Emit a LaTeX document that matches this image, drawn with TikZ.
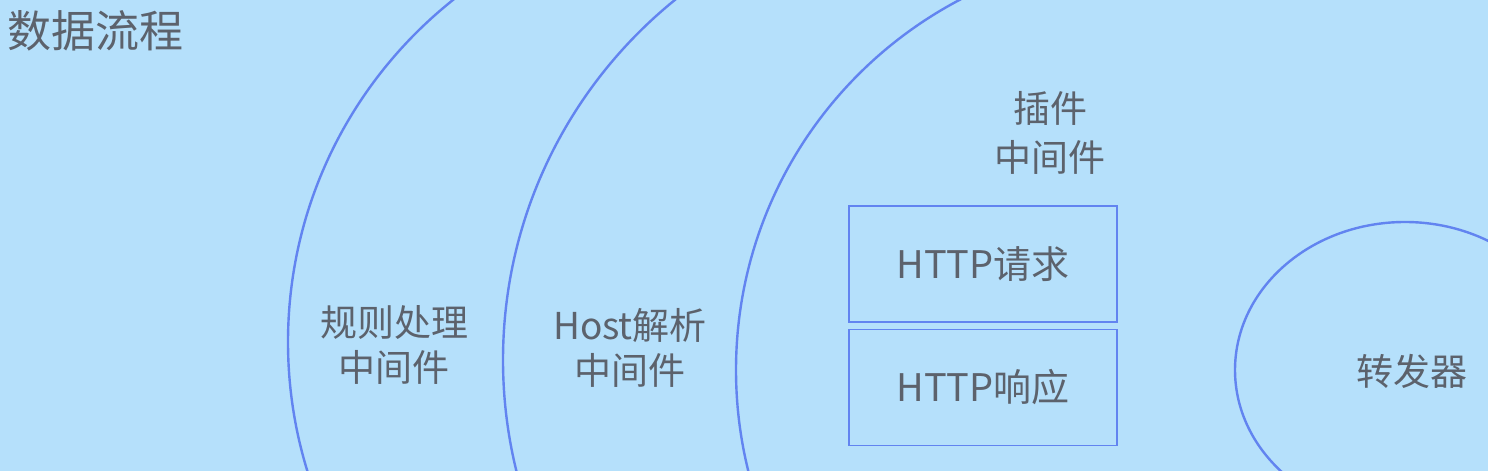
\documentclass[tikz,border=0pt]{standalone}
\usepackage{fontspec}
\newfontfamily\cjk{Noto Sans CJK SC}
\usetikzlibrary{positioning}

\definecolor{slidebg}{RGB}{181,224,251}
\definecolor{ringblue}{RGB}{98,132,240}
\definecolor{labelgray}{RGB}{92,98,108}

\begin{document}
\begin{tikzpicture}[x=1pt,y=-1pt,
    ring/.style={draw=ringblue,line width=2.4pt},
    label text/.style={text=labelgray,align=center,inner sep=0pt,font=\cjk\fontsize{37}{45}\selectfont},
    part box/.style={draw=ringblue,line width=1.4pt,minimum width=268pt,minimum height=116pt,inner sep=0pt,
        text=labelgray,font=\cjk\fontsize{38}{45}\selectfont}]

% slide background
\fill[slidebg] (0,0) rectangle (1488,471);
\useasboundingbox (0,0) rectangle (1488,471);

% middleware rings: only their left sides are on the slide
\foreach \cx/\cy/\r in {725/342/437, 966/360/463, 1154/370/418}{
  \begin{scope}
  \clip (0,0) rectangle (\cx,471);
  \draw[ring] (\cx,\cy) circle[radius=\r pt];
  \end{scope}
}
\begin{scope}
\clip (0,0) rectangle (1488,471);
\draw[ring] (1405,370) ellipse[x radius=170pt,y radius=148pt];
\end{scope}

\node[label text,font=\cjk\fontsize{44}{50}\selectfont] (title) at (96,31) {数据流程};

\node[label text] (rule)   at (394,345) {规则处理\\中间件};
\node[label text] (host)   at (630,348) {Host解析\\中间件};
\node[label text,font=\cjk\fontsize{37}{49}\selectfont] (plugin) at (1050,133) {插件\\中间件};

\node[part box] (request) at (983,264) {HTTP请求};
\node[part box] (response) [below=6pt of request] {HTTP响应};

\node[label text] (forward) at (1412,371) {转发器};
\end{tikzpicture}
\end{document}
